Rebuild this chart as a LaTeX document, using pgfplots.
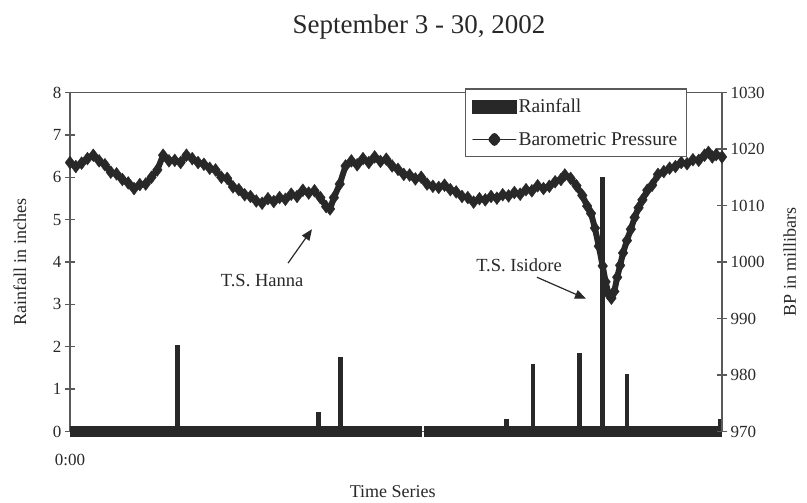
\documentclass[border=0pt]{standalone}
\usepackage{fontspec}
\setmainfont{Liberation Serif}
\usepackage{pgfplots}
\usepackage{pgfplotstable}
\pgfplotsset{compat=1.18}
\usetikzlibrary{arrows.meta}
\definecolor{ink}{RGB}{40,40,40}
\definecolor{axisgray}{RGB}{90,90,90}
\pgfplotstableread{
h mb
0 1017.6
6 1016.9
12 1017.5
18 1018.3
24 1018.9
30 1017.9
36 1017.2
42 1015.9
48 1015.6
54 1014.6
60 1014.0
66 1013.0
72 1013.7
78 1013.8
84 1015.0
90 1016.3
96 1018.9
102 1017.9
108 1018.0
114 1017.6
120 1018.9
126 1018.3
132 1017.6
138 1017.3
144 1016.6
150 1016.3
156 1015.0
162 1014.8
168 1013.3
174 1012.8
180 1011.9
186 1011.6
192 1010.8
198 1010.4
204 1011.2
210 1010.7
216 1011.4
222 1011.1
228 1012.0
234 1011.6
240 1012.7
246 1012.2
252 1012.6
258 1011.4
264 1009.8
268 1009.4
272 1011.4
278 1013.8
284 1017.0
290 1017.9
296 1017.2
302 1018.3
308 1017.6
314 1018.6
320 1017.8
326 1018.2
332 1017.0
338 1016.4
344 1015.5
350 1015.4
356 1014.7
362 1015.0
368 1013.8
374 1013.4
380 1013.2
386 1013.6
392 1012.8
398 1012.4
404 1011.6
410 1011.4
416 1010.6
422 1011.2
428 1011.0
434 1011.6
440 1011.3
446 1011.9
452 1011.7
458 1012.3
464 1012.0
470 1012.8
476 1012.6
482 1013.5
488 1013.0
494 1013.4
500 1014.2
506 1014.6
510 1015.4
516 1014.8
522 1013.5
528 1011.8
533 1009.9
537 1008.6
541 1006.0
545 1002.8
549 999.3
552 996.5
555 994.3
558 993.6
561 994.8
564 997.3
567 999.4
570 1001.6
574 1003.8
578 1005.8
582 1007.9
586 1009.6
590 1011.0
595 1012.7
600 1013.6
606 1015.5
612 1016.0
618 1016.6
624 1016.9
630 1017.6
636 1017.4
642 1018.1
648 1018.0
654 1018.9
658 1019.4
662 1018.6
666 1019.0
672 1018.6
}\bptable
\pgfplotstableread{
h rain
85.5 0.08
111 2.05
256 0.45
279 1.76
450 0.30
477 1.60
525 1.85
549 6.00
574 1.36
670 0.30
}\raintable
\pgfplotstableread{
h zero
0 0
363 0
}\zeroA
\pgfplotstableread{
h zero
365 0
672 0
}\zeroB
\begin{document}
\begin{tikzpicture}
\useasboundingbox (0bp,0bp) rectangle (807bp,503bp);
\node[font=\fontsize{27bp}{30bp}\selectfont, text=ink] at (419bp,476bp) {September 3 - 30, 2002};
\begin{axis}[
  at={(70bp,71.5bp)}, anchor=south west,
  scale only axis, width=652bp, height=339bp,
  xmin=0, xmax=672, ymin=0, ymax=8,
  clip=false,
  axis line style={axisgray, line width=1.3bp},
  ytick={0,1,...,8}, ytick pos=left,
  xtick={0}, xticklabels={0:00}, xtick pos=bottom,
  x tick style={draw=none},
  tick align=center, major tick length=10bp,
  y tick style={axisgray, line width=1.3bp},
  /pgf/number format/assume math mode=true,
  ticklabel style={font=\fontsize{17bp}{20bp}\selectfont, text=ink},
  xticklabel style={yshift=-14bp},
  xlabel={Time Series}, ylabel={Rainfall in inches},
  xlabel style={at={(axis description cs:0.495,-0.178)}, anchor=center, font=\fontsize{18bp}{21bp}\selectfont, text=ink},
  ylabel style={at={(axis description cs:-0.077,0.5)}, anchor=center, font=\fontsize{18bp}{21bp}\selectfont, text=ink},
]
\addplot[ink, line width=10bp, forget plot] table[x=h, y=zero] {\zeroA};
\addplot[ink, line width=10bp, forget plot] table[x=h, y=zero] {\zeroB};
\addplot[ycomb, ink, line width=4.5bp, mark=none, forget plot] table[x=h, y=rain] {\raintable};
\end{axis}
\begin{axis}[
  at={(70bp,71.5bp)}, anchor=south west,
  scale only axis, width=652bp, height=339bp,
  xmin=0, xmax=672, ymin=970, ymax=1030,
  clip=false,
  hide x axis, axis y line*=right,
  axis line style={axisgray, line width=1.3bp},
  ytick={970,980,...,1030},
  tick align=center, major tick length=10bp,
  y tick style={axisgray, line width=1.3bp},
  /pgf/number format/assume math mode=true,
  /pgf/number format/1000 sep={},
  ticklabel style={font=\fontsize{17bp}{20bp}\selectfont, text=ink},
  ylabel={BP in millibars},
  ylabel style={at={(axis description cs:1.104,0.5)}, anchor=center, font=\fontsize{18bp}{21bp}\selectfont, text=ink},
  legend style={at={(axis description cs:0.946,1.012)}, anchor=north east,
    draw=axisgray, line width=1.2bp, fill=white,
    font=\fontsize{19.5bp}{22bp}\selectfont, text=ink,
    inner xsep=7bp, inner ysep=8bp, row sep=14bp,
    nodes={inner sep=2bp}},
  legend cell align=left,
]
\addlegendimage{legend image code/.code={\fill[ink] (0bp,-6.5bp) rectangle (43bp,6.5bp);}}
\addlegendentry{Rainfall}
\addplot[ink, line width=6bp, line join=round, line cap=round, mark=diamond*, mark size=6.5bp,
  mark options={solid, line width=0.3bp},
  legend image code/.code={\draw[ink, line width=1bp] (0bp,0bp) -- (43bp,0bp);
    \fill[ink] (21.5bp,0bp) +(-3bp,0bp) -- +(0bp,3.5bp) -- +(3bp,0bp) -- +(0bp,-3.5bp) -- cycle;}]
  table[x=h, y=mb] {\bptable};
\addlegendentry{Barometric Pressure}
\node[font=\fontsize{18.5bp}{21bp}\selectfont, text=ink] at (axis cs:198,996.8) {T.S. Hanna};
\draw[ink, line width=1.2bp, -{Triangle[length=11bp,width=9bp]}] (axis cs:224.7,999.8) -- (axis cs:249.4,1005.8);
\node[font=\fontsize{18.5bp}{21bp}\selectfont, text=ink] at (axis cs:462.8,999.5) {T.S. Isidore};
\draw[ink, line width=1.2bp, -{Triangle[length=11bp,width=9bp]}] (axis cs:481.3,997.3) -- (axis cs:531.8,993.5);
\end{axis}
\end{tikzpicture}
\end{document}
